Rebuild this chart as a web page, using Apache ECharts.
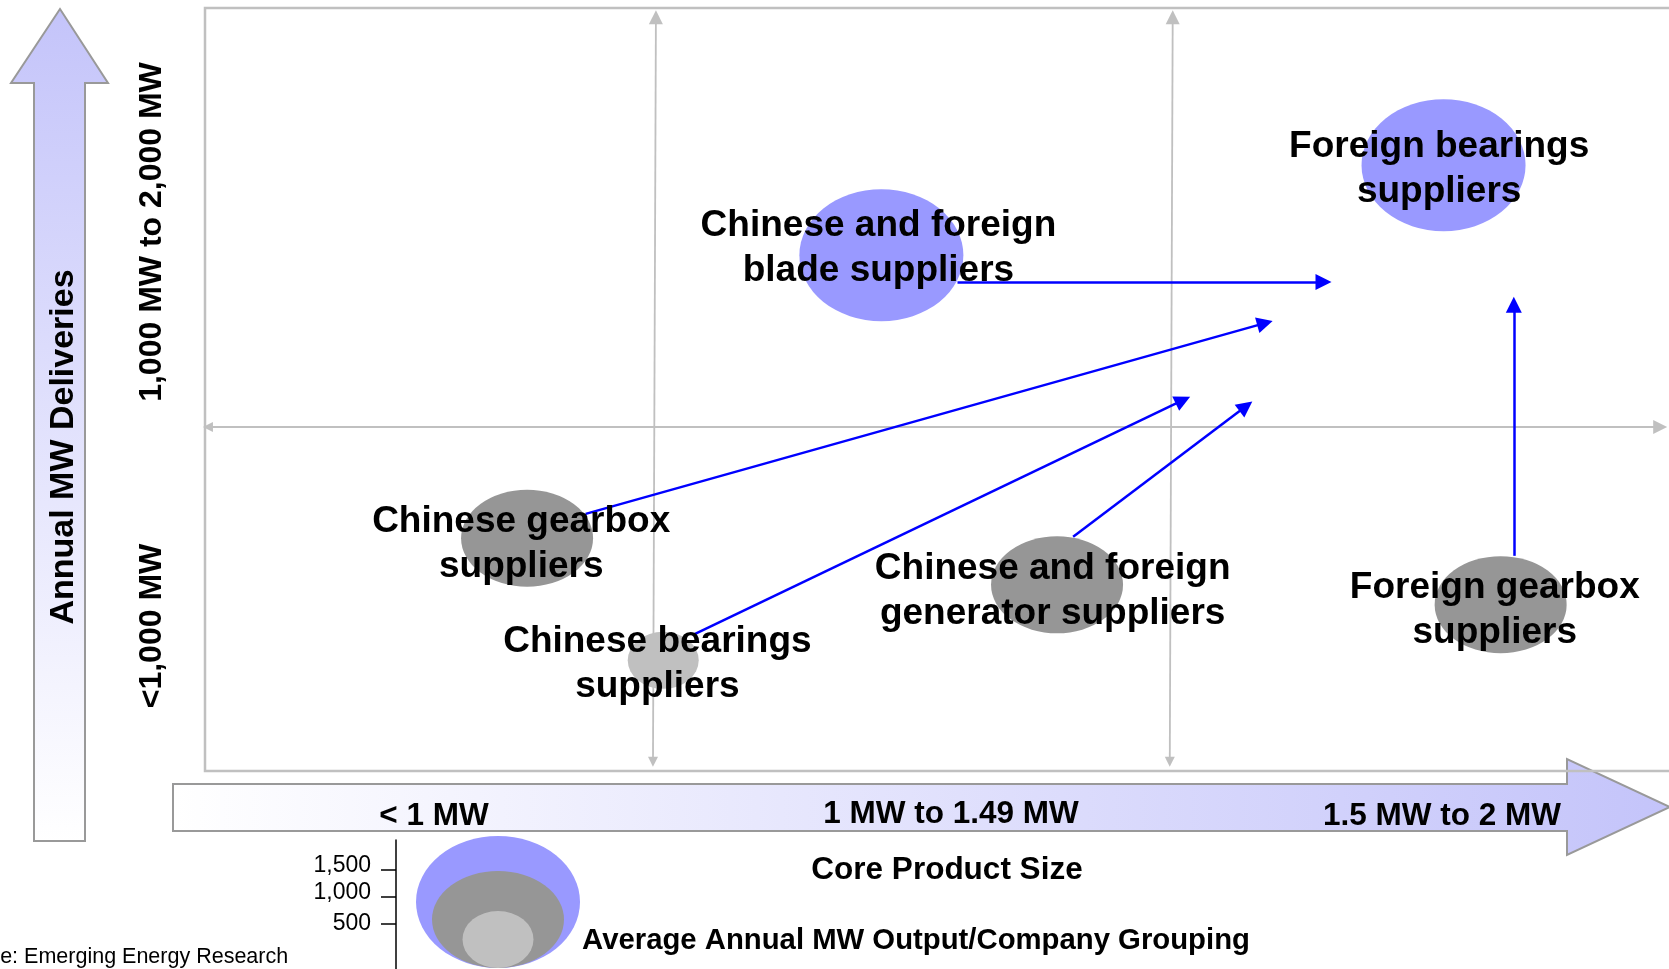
<!DOCTYPE html>
<html>
<head>
<meta charset="utf-8">
<title>Supplier groupings by product size and deliveries</title>
<script src="https://cdn.jsdelivr.net/npm/echarts@6/dist/echarts.min.js"></script>
<style>
  html, body { margin: 0; padding: 0; background: #fff; }
  #chart { width: 1669px; height: 969px; }
</style>
</head>
<body>
<div id="chart"></div>
<script>
// positions are in % of the plot frame: x = core product size, y = annual MW deliveries
const groupNames = [
    'Foreign bearings\nsuppliers',
    'Chinese and foreign\nblade suppliers',
    'Chinese gearbox\nsuppliers',
    'Chinese bearings\nsuppliers',
    'Chinese and foreign\ngenerator suppliers',
    'Foreign gearbox\nsuppliers'
];
const productSize = [84.6, 46.2, 22.0, 31.3, 58.2, 88.5];
const deliveries = [79.4, 67.6, 30.5, 14.5, 24.4, 21.8];
const avgOutputMW = [1500, 1500, 1000, 500, 1000, 1000];

// where the text of each grouping sits (slightly off the bubble centre)
const labelX = [84.3, 46.0, 21.6, 30.9, 57.9, 88.1];
const labelY = [78.8, 68.5, 29.7, 14.0, 23.6, 21.1];

// expected moves (blue arrows)
const moveFrom = [[51.4, 64.1], [26.0, 33.7], [33.3, 17.8], [59.3, 30.7], [89.4, 28.2]];
const moveTo = [[76.4, 64.1], [72.4, 58.7], [66.8, 48.6], [71.1, 47.8], [89.4, 61.1]];

// quadrant dividers
const xDividers = [[30.8, 30.6], [66.1, 65.9]];
const yDividers = [45.1];

const sizeBands = ['< 1 MW', '1 MW to 1.49 MW', '1.5 MW to 2 MW'];
const deliveryBands = ['<1,000 MW', '1,000 MW to 2,000 MW'];
const legendTicks = [500, 1000, 1500];

const FONT = '"Liberation Sans", Arial, Helvetica, sans-serif';
const tierColor = { 1500: '#9999ff', 1000: '#969696', 500: '#c0c0c0' };
const tierSize = { 1500: [164, 132], 1000: [132, 97], 500: [71, 57] };

const chart = echarts.init(document.getElementById('chart'));

const boldText = (text, x, y, size, rotate) => ({
    type: 'text',
    x: x,
    y: y,
    rotation: rotate ? Math.PI / 2 : 0,
    style: {
        text: text,
        fontSize: size,
        fontWeight: 'bold',
        fontFamily: FONT,
        fill: '#000',
        align: 'center',
        verticalAlign: 'middle'
    }
});

const sizeBandPos = [[434, 816], [951, 814], [1442, 816]];
const deliveryBandPos = [[152, 626], [152, 232]];

const graphics = [
    // vertical "Annual MW Deliveries" arrow
    {
        type: 'polygon',
        shape: { points: [[34, 841], [34, 83], [11, 83], [60, 9], [108, 83], [85, 83], [85, 841]] },
        style: {
            fill: new echarts.graphic.LinearGradient(0, 0, 0, 1, [
                { offset: 0, color: '#c4c4fa' },
                { offset: 1, color: '#ffffff' }
            ]),
            stroke: '#999999',
            lineWidth: 2
        }
    },
    // horizontal "Core Product Size" arrow
    {
        type: 'polygon',
        shape: { points: [[173, 784], [1567, 784], [1567, 759], [1670, 807], [1567, 855], [1567, 831], [173, 831]] },
        style: {
            fill: new echarts.graphic.LinearGradient(0, 0, 1, 0, [
                { offset: 0, color: '#ffffff' },
                { offset: 1, color: '#c4c4fa' }
            ]),
            stroke: '#999999',
            lineWidth: 2
        }
    },
    // plot frame (open on the right)
    {
        type: 'polyline',
        shape: { points: [[1680, 8], [205, 8], [205, 771], [1680, 771]] },
        style: { stroke: '#c0c0c0', lineWidth: 2.5, fill: null }
    },
    boldText('Annual MW Deliveries', 64, 447, 34, true),
    boldText('Core Product Size', 947, 870, 31.5),
    boldText('Average Annual MW Output/Company Grouping', 916, 941, 29.3),
    {
        type: 'text',
        x: -56,
        y: 957,
        style: {
            text: 'Source: Emerging Energy Research',
            fontSize: 21.5,
            fontFamily: FONT,
            fill: '#000',
            align: 'left',
            verticalAlign: 'middle'
        }
    }
];
sizeBands.forEach((t, i) => graphics.push(boldText(t, sizeBandPos[i][0], sizeBandPos[i][1], 31.5)));
deliveryBands.forEach((t, i) => graphics.push(boldText(t, deliveryBandPos[i][0], deliveryBandPos[i][1], 32, true)));

const dividerLines = [];
xDividers.forEach(d => dividerLines.push({ coords: [[d[1], 1.2], [d[0], 98.8]] }));
yDividers.forEach(v => dividerLines.push({ coords: [[0.2, v], [99.4, v]] }));

const option = {
    animation: false,
    backgroundColor: '#ffffff',
    graphic: { elements: graphics },
    grid: [
        { left: 205, top: 8, width: 1464, height: 763, show: false },
        { left: 396, top: 840, width: 200, height: 129, show: false }
    ],
    xAxis: [
        { type: 'value', gridIndex: 0, min: 0, max: 100, show: false },
        { type: 'value', gridIndex: 1, min: 0, max: 200, show: false }
    ],
    yAxis: [
        { type: 'value', gridIndex: 0, min: 0, max: 100, show: false },
        {
            type: 'value',
            gridIndex: 1,
            min: -333,
            max: 2056,
            axisLine: { show: true, onZero: false, lineStyle: { color: '#000', width: 1.5 } },
            axisTick: { show: true, customValues: legendTicks, length: 15, lineStyle: { color: '#000', width: 1.5 } },
            axisLabel: {
                customValues: legendTicks,
                // the upper two labels sit just above their ticks
                formatter: v => (v > 500 ? '{up|' + v.toLocaleString('en-US') + '}' : v.toLocaleString('en-US')),
                rich: { up: { fontSize: 23, fontFamily: FONT, color: '#000', padding: [0, 0, 8, 0] } },
                fontSize: 23,
                fontFamily: FONT,
                color: '#000',
                margin: 25
            },
            splitLine: { show: false }
        }
    ],
    series: [
        {
            // quadrant dividers with arrowheads at both ends
            type: 'lines',
            coordinateSystem: 'cartesian2d',
            xAxisIndex: 0,
            yAxisIndex: 0,
            z: 1,
            clip: false,
            silent: true,
            symbol: ['triangle', 'triangle'],
            symbolSize: [10, 14],
            lineStyle: { color: '#c0c0c0', width: 1.8, opacity: 1, curveness: 0 },
            data: dividerLines
        },
        {
            name: 'Company groupings',
            type: 'scatter',
            xAxisIndex: 0,
            yAxisIndex: 0,
            z: 2,
            clip: false,
            silent: true,
            symbol: 'circle',
            data: groupNames.map((n, i) => ({
                name: n,
                value: [productSize[i], deliveries[i], avgOutputMW[i]],
                symbolSize: tierSize[avgOutputMW[i]],
                itemStyle: { color: tierColor[avgOutputMW[i]], opacity: 1 }
            }))
        },
        {
            name: 'Expected moves',
            type: 'lines',
            coordinateSystem: 'cartesian2d',
            xAxisIndex: 0,
            yAxisIndex: 0,
            z: 3,
            clip: false,
            silent: true,
            symbol: ['none', 'triangle'],
            symbolSize: [15, 16],
            lineStyle: { color: '#0000ff', width: 2.5, opacity: 1, curveness: 0 },
            data: moveFrom.map((p, i) => ({ coords: [p, moveTo[i]] }))
        },
        {
            // grouping names, drawn above the arrows
            type: 'scatter',
            xAxisIndex: 0,
            yAxisIndex: 0,
            z: 5,
            clip: false,
            silent: true,
            symbolSize: 2,
            itemStyle: { color: 'rgba(0,0,0,0)', opacity: 1 },
            label: {
                show: true,
                position: 'inside',
                formatter: p => p.name,
                fontSize: 37,
                fontWeight: 'bold',
                fontFamily: FONT,
                lineHeight: 45,
                color: '#000',
                opacity: 1,
                textBorderWidth: 0,
                align: 'center',
                verticalAlign: 'middle'
            },
            data: groupNames.map((n, i) => ({ name: n, value: [labelX[i], labelY[i]] }))
        },
        {
            // bubble size key
            name: 'Average Annual MW Output',
            type: 'scatter',
            xAxisIndex: 1,
            yAxisIndex: 1,
            z: 2,
            clip: false,
            silent: true,
            data: legendTicks.slice().reverse().map(v => ({
                value: [102, -314, v],
                symbolSize: tierSize[v],
                symbolOffset: [0, -tierSize[v][1] / 2],
                itemStyle: { color: tierColor[v], opacity: 1 }
            }))
        }
    ]
};

chart.setOption(option);
</script>
</body>
</html>
